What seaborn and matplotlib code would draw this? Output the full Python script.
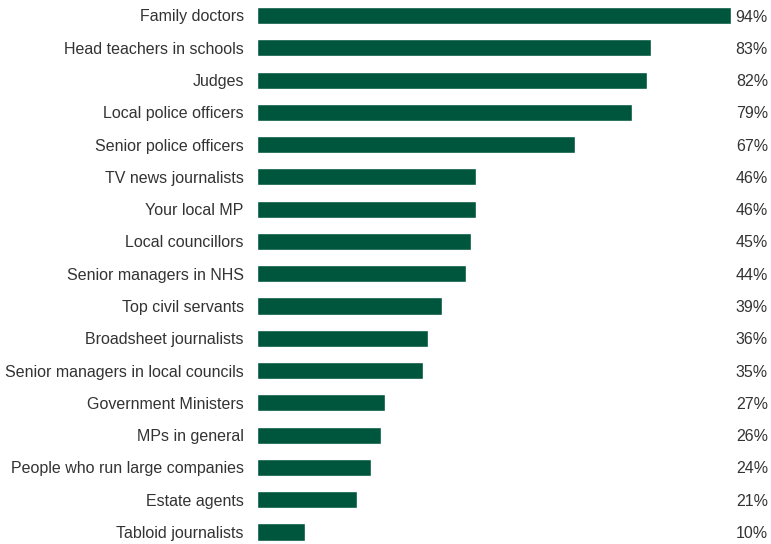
import matplotlib
matplotlib.use("Agg")
import matplotlib.pyplot as plt
import seaborn as sns
import pandas as pd

categories = [
    "Family doctors", "Head teachers in schools", "Judges", "Local police officers",
    "Senior police officers", "TV news journalists", "Your local MP", "Local councillors",
    "Senior managers in NHS", "Top civil servants", "Broadsheet journalists",
    "Senior managers in local councils", "Government Ministers", "MPs in general",
    "People who run large companies", "Estate agents", "Tabloid journalists",
]
# percentages printed at the right
pct_labels = [94, 83, 82, 79, 67, 46, 46, 45, 44, 39, 36, 35, 27, 26, 24, 21, 10]
# bar lengths as drawn in the picture (first bar is drawn longer than its label)
bar_lengths = [99.8, 83, 82, 79, 67, 46, 46, 45, 44, 39, 36, 35, 27, 26, 24, 21, 10]

df = pd.DataFrame({"category": categories, "value": bar_lengths})

sns.set_theme(style="white")
plt.rcParams["font.family"] = ["Liberation Sans", "DejaVu Sans"]

W, H = 771, 544
fig = plt.figure(figsize=(W / 100, H / 100), dpi=100)
left_px = 257
ax = fig.add_axes([left_px / W, 0, (W - left_px) / W, 1])

sns.barplot(data=df, x="value", y="category", orient="h", color="#00553d",
            saturation=1, width=0.53, ax=ax)

scale = 4.75  # px per unit
ax.set_xlim(0, (W - left_px) / scale)
pitch = (532 - 15.5) / 16
ax.set_ylim(16 + (H - 532) / pitch, -15.5 / pitch)

for s in ax.spines.values():
    s.set_visible(False)
ax.set_xticks([])
ax.set_xlabel("")
ax.set_ylabel("")
ax.tick_params(axis="y", length=0, pad=9.5, labelsize=11.5, labelcolor="#333333")

for i, p in enumerate(pct_labels):
    ax.annotate(f"{p}%", xy=(1, i), xycoords=("axes fraction", "data"),
                xytext=(-3, 0), textcoords="offset pixels",
                ha="right", va="center_baseline", fontsize=11.5, color="#333333")

fig.savefig("out.png", dpi=100)
